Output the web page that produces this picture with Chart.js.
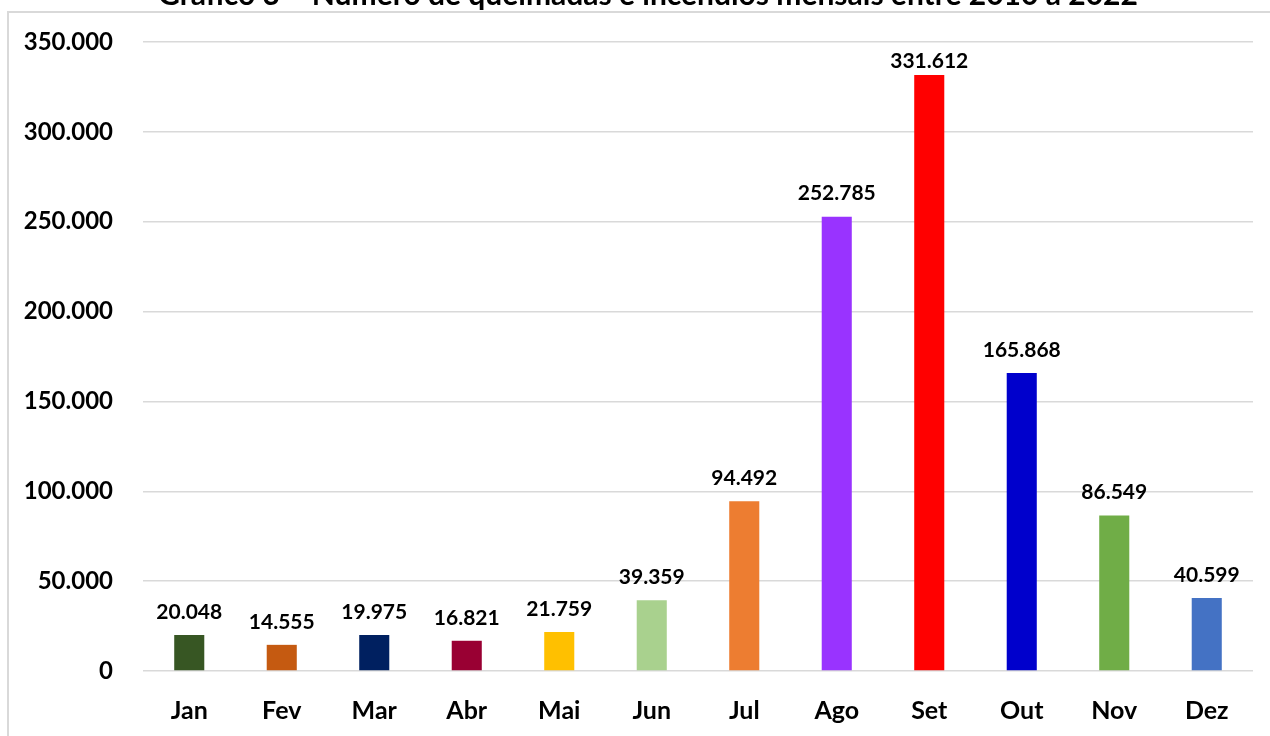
<!DOCTYPE html>
<html lang="pt-BR">
<head>
<meta charset="utf-8">
<title>Queimadas e incêndios mensais</title>
<script src="https://cdn.jsdelivr.net/npm/chart.js@4/dist/chart.umd.min.js"></script>
<style>
  html, body { margin: 0; padding: 0; background: #ffffff; overflow: hidden; }
  #frame {
    position: absolute; left: 7px; top: 11px; width: 1400px; height: 900px;
    border-top: 2px solid #d9d9d9; border-left: 2px solid #d9d9d9;
  }
  #wrap { position: absolute; left: 0; top: 0; width: 1270px; height: 736px; }
</style>
</head>
<body>
<div id="frame"></div>
<div id="wrap"><canvas id="chart" width="1270" height="736"></canvas></div>
<script>
// Monthly totals of fires (queimadas e incêndios)
const months = ['Jan', 'Fev', 'Mar', 'Abr', 'Mai', 'Jun', 'Jul', 'Ago', 'Set', 'Out', 'Nov', 'Dez'];
const fires = [20048, 14555, 19975, 16821, 21759, 39359, 94492, 252785, 331612, 165868, 86549, 40599];
const barColors = ['#375623', '#C55A11', '#002060', '#990033', '#FFC000', '#A9D18E',
                   '#ED7D31', '#9933FF', '#FF0000', '#0000CC', '#70AD47', '#4472C4'];
const yTicks = [0, 50000, 100000, 150000, 200000, 250000, 300000, 350000];
const titleText = 'Gráfico 3 – Número de queimadas e incêndios mensais entre 2010 a 2022';

const FONT = 'Lato, "Open Sans", sans-serif';

// Brazilian thousands separator: 331612 -> "331.612"
function fmt(v) {
  return String(Math.round(v)).replace(/\B(?=(\d{3})+(?!\d))/g, '.');
}

// Title, partly above the page edge
const titlePlugin = {
  id: 'topTitle',
  afterDraw(chart) {
    const ctx = chart.ctx;
    ctx.save();
    ctx.font = 'bold 30px ' + FONT;
    ctx.fillStyle = '#000000';
    ctx.textAlign = 'center';
    ctx.textBaseline = 'alphabetic';
    ctx.fillText(titleText, 648, 5);
    ctx.restore();
  }
};

// Value labels above each bar
const valueLabels = {
  id: 'valueLabels',
  afterDatasetsDraw(chart) {
    const ctx = chart.ctx;
    const meta = chart.getDatasetMeta(0);
    ctx.save();
    ctx.font = 'bold 21px ' + FONT;
    ctx.fillStyle = '#000000';
    ctx.textAlign = 'center';
    ctx.textBaseline = 'middle';
    meta.data.forEach((bar, i) => {
      const y = Math.max(bar.y - 23, chart.chartArea.top + 19);
      ctx.fillText(fmt(fires[i]), bar.x, y);
    });
    ctx.restore();
  }
};

new Chart(document.getElementById('chart'), {
  type: 'bar',
  data: {
    labels: months,
    datasets: [{
      data: fires,
      backgroundColor: barColors,
      borderWidth: 0,
      categoryPercentage: 1.0,
      barPercentage: 0.325
    }]
  },
  options: {
    responsive: false,
    animation: false,
    events: [],
    layout: { padding: { left: 0, right: 17, top: 42, bottom: 0 } },
    plugins: {
      legend: { display: false },
      tooltip: { enabled: false },
      title: { display: false }
    },
    scales: {
      x: {
        grid: { display: false, drawTicks: false },
        border: { display: false },
        ticks: {
          color: '#000000',
          font: { family: FONT, size: 25, weight: 'bold', lineHeight: 1 },
          padding: 27
        },
        afterFit(scale) { scale.height = 65; }
      },
      y: {
        min: 0,
        max: 350000,
        afterBuildTicks(scale) { scale.ticks = yTicks.map(v => ({ value: v })); },
        grid: { color: '#d9d9d9', lineWidth: 1.5, drawTicks: false },
        border: { display: false },
        ticks: {
          color: '#000000',
          font: { family: FONT, size: 24, weight: 'bold', lineHeight: 1 },
          padding: 30,
          callback: v => fmt(v)
        },
        afterFit(scale) { scale.width = 143; }
      }
    }
  },
  plugins: [titlePlugin, valueLabels]
});
</script>
</body>
</html>
